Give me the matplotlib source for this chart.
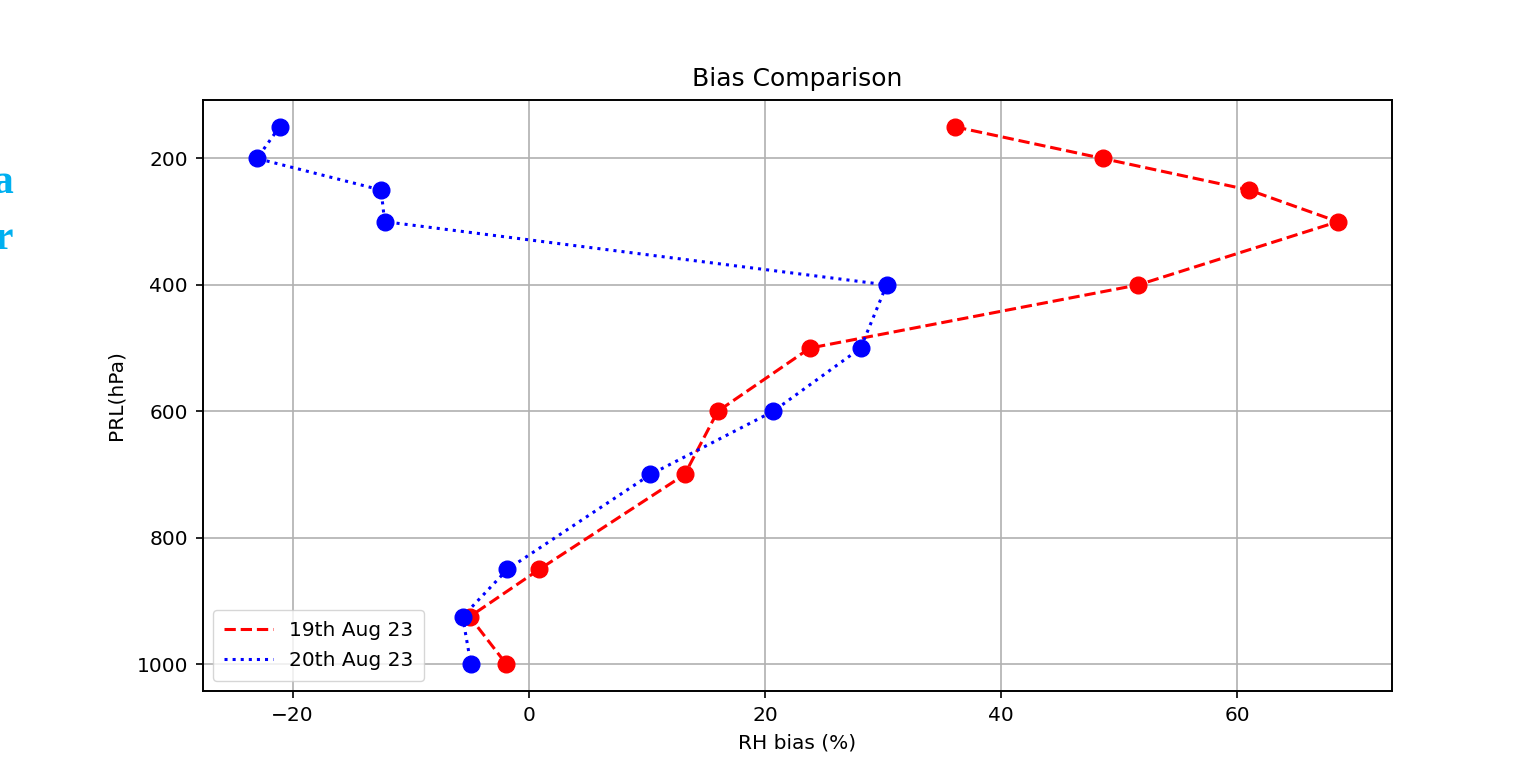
import numpy as np
import matplotlib
matplotlib.use("Agg")
import matplotlib.pyplot as plt

# pressure levels (hPa) and RH bias (%) for the two soundings
levels = [150, 200, 250, 300, 400, 500, 600, 700, 850, 925, 1000]
bias_19aug = [36.1, 48.6, 61.0, 68.5, 51.6, 23.8, 16.0, 13.2, 0.9, -5.0, -1.9]
bias_20aug = [-21.1, -23.0, -12.5, -12.2, 30.3, 28.1, 20.7, 10.3, -1.8, -5.6, -4.9]

fig = plt.figure(figsize=(15.37, 7.71), dpi=100)
ax = fig.add_axes([0.1321, 0.1038, 0.7735, 0.7665])

# lines carry the legend entries, dots drawn on top without labels
ax.plot(bias_19aug, levels, color="red", linestyle="--", linewidth=2.2,
        label="19th Aug 23")
ax.plot(bias_20aug, levels, color="blue", linestyle=":", linewidth=2.2,
        label="20th Aug 23")
ax.plot(bias_19aug, levels, "o", color="red", markersize=12)
ax.plot(bias_20aug, levels, "o", color="blue", markersize=12)

ax.invert_yaxis()
ax.set_xticks([-20, 0, 20, 40, 60])
ax.set_yticks([200, 400, 600, 800, 1000])
ax.grid(True, linewidth=1.2)
ax.tick_params(labelsize=14.5, length=5.25, width=1.2, pad=5.5)
for s in ax.spines.values():
    s.set_linewidth(1.4)

ax.set_title("Bias Comparison", fontsize=18, pad=10)
ax.set_xlabel("RH bias (%)", fontsize=14.5, labelpad=6)
ax.set_ylabel("PRL(hPa)", fontsize=14.5, labelpad=8)
ax.legend(loc="lower left", fontsize=14.5, handlelength=2.4,
          borderpad=0.55, labelspacing=0.55)

# slide text peeking in from the left edge
fig.text(0.009, 0.762, "a", color="#00b0f0", fontsize=30, fontweight="bold",
         family="Liberation Serif", ha="right", va="center")
fig.text(0.009, 0.69, "r", color="#00b0f0", fontsize=30, fontweight="bold",
         family="Liberation Serif", ha="right", va="center")

fig.savefig("out.png", dpi=100)
